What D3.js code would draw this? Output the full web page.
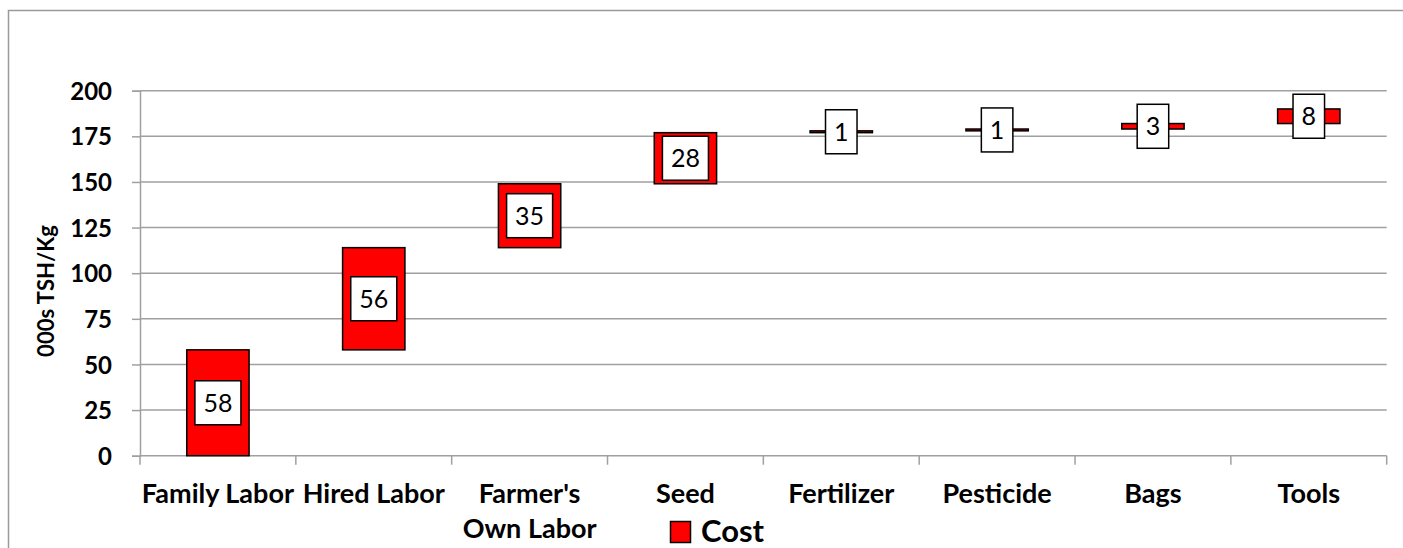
<!DOCTYPE html>
<html>
<head>
<meta charset="utf-8">
<script src="https://cdn.jsdelivr.net/npm/d3@7"></script>
<style>
  html, body { margin: 0; padding: 0; background: #fff; overflow: hidden; }
  svg { display: block; }
</style>
</head>
<body>
<svg id="chart" width="1403" height="548"></svg>
<script>
// ---- data ----
const categories = ["Family Labor", "Hired Labor", "Farmer's Own Labor", "Seed", "Fertilizer", "Pesticide", "Bags", "Tools"];
const categoryLines = [["Family Labor"], ["Hired Labor"], ["Farmer's", "Own Labor"], ["Seed"], ["Fertilizer"], ["Pesticide"], ["Bags"], ["Tools"]];
const baseValues = [0, 58, 114, 149, 177, 178, 179, 182];   // invisible base series
const costValues = [58, 56, 35, 28, 1, 1, 3, 8];             // visible "Cost" series
const yTicks = [0, 25, 50, 75, 100, 125, 150, 175, 200];
const yTitle = "000s TSH/Kg";
const legendLabel = "Cost";

// ---- layout ----
const svg = d3.select("#chart");
const W = 1403, H = 548;
const plot = { left: 140, right: 1386.7, top: 90.7, bottom: 455.7 };
const font = "Lato, 'Open Sans', sans-serif";
const gridColor = "#a0a0a0";

// outer chart border: only top and left edges fall inside the picture
svg.append("path")
  .attr("d", `M8.5,${H}V10.5H${W}`)
  .attr("fill", "none").attr("stroke", "#9a9a9a").attr("stroke-width", 1.5);

const x = d3.scaleBand().domain(categories).range([plot.left, plot.right]).paddingInner(0).paddingOuter(0);
const y = d3.scaleLinear().domain([0, 200]).range([plot.bottom, plot.top]);

// gridlines
svg.append("g").selectAll("line").data(yTicks.filter(d => d > 0)).join("line")
  .attr("x1", plot.left).attr("x2", plot.right)
  .attr("y1", d => y(d)).attr("y2", d => y(d))
  .attr("stroke", gridColor).attr("stroke-width", 1.5);

// y axis
const yAxis = svg.append("g").attr("transform", `translate(${plot.left},0)`)
  .call(d3.axisLeft(y).tickValues(yTicks).tickSize(8).tickPadding(20));
yAxis.select(".domain").attr("stroke", gridColor).attr("stroke-width", 1.5);
yAxis.selectAll(".tick line").attr("stroke", gridColor).attr("stroke-width", 1.5);
yAxis.selectAll(".tick text")
  .attr("font-family", font).attr("font-weight", "bold").attr("font-size", 24)
  .attr("fill", "#000").attr("dy", "0.36em");

// x axis
const xAxisG = svg.append("g").attr("transform", `translate(0,${plot.bottom})`);
xAxisG.append("line").attr("x1", plot.left).attr("x2", plot.right).attr("y1", 0).attr("y2", 0)
  .attr("stroke", gridColor).attr("stroke-width", 1.5);
const boundaries = categories.map(c => x(c)).concat([x.range()[1]]);
xAxisG.selectAll("line.tk").data(boundaries).join("line").attr("class", "tk")
  .attr("x1", d => d).attr("x2", d => d).attr("y1", 0).attr("y2", 9)
  .attr("stroke", gridColor).attr("stroke-width", 1.5);

const xl = svg.append("g").selectAll("text").data(categories).join("text")
  .attr("x", d => x(d) + x.bandwidth() / 2)
  .attr("y", 503)
  .attr("text-anchor", "middle")
  .attr("font-family", font).attr("font-weight", "bold").attr("font-size", 27)
  .attr("fill", "#000");
xl.each(function(d, i) {
  const t = d3.select(this);
  categoryLines[i].forEach((ln, j) => {
    t.append("tspan").attr("x", x(d) + x.bandwidth() / 2).attr("dy", j === 0 ? 0 : 35).text(ln);
  });
});

// y title
svg.append("text")
  .attr("transform", `translate(54,291) rotate(-90)`)
  .attr("text-anchor", "middle")
  .attr("font-family", font).attr("font-weight", "bold").attr("font-size", 22)
  .attr("fill", "#000")
  .text(yTitle);

// bars
const barW = x.bandwidth() * 0.4;
const bars = svg.append("g");
bars.selectAll("rect").data(categories).join("rect")
  .attr("x", d => x(d) + (x.bandwidth() - barW) / 2)
  .attr("width", barW)
  .attr("y", (d, i) => y(baseValues[i] + costValues[i]))
  .attr("height", (d, i) => y(baseValues[i]) - y(baseValues[i] + costValues[i]))
  .attr("fill", "#ff0000").attr("stroke", "#000").attr("stroke-width", 1.5);

// data labels
const labels = svg.append("g");
categories.forEach((c, i) => {
  const cx = x(c) + x.bandwidth() / 2;
  const cy = y(baseValues[i] + costValues[i] / 2);
  const g = labels.append("g");
  const txt = g.append("text")
    .attr("x", cx).attr("y", cy).attr("dy", "0.36em")
    .attr("text-anchor", "middle")
    .attr("font-family", font).attr("font-size", 25).attr("fill", "#000")
    .text(costValues[i]);
  const w = txt.node().getComputedTextLength() + 17;
  g.insert("rect", "text")
    .attr("x", cx - w / 2).attr("y", cy - 22)
    .attr("width", w).attr("height", 44)
    .attr("fill", "#fff").attr("stroke", "#000").attr("stroke-width", 1.5);
});

// legend
svg.append("rect").attr("x", 670.5).attr("y", 521.5).attr("width", 20).attr("height", 21)
  .attr("fill", "#ff0000").attr("stroke", "#000").attr("stroke-width", 1.5);
svg.append("text").attr("x", 701).attr("y", 542)
  .attr("font-family", font).attr("font-weight", "bold").attr("font-size", 31)
  .attr("fill", "#000").text(legendLabel);
</script>
</body>
</html>
